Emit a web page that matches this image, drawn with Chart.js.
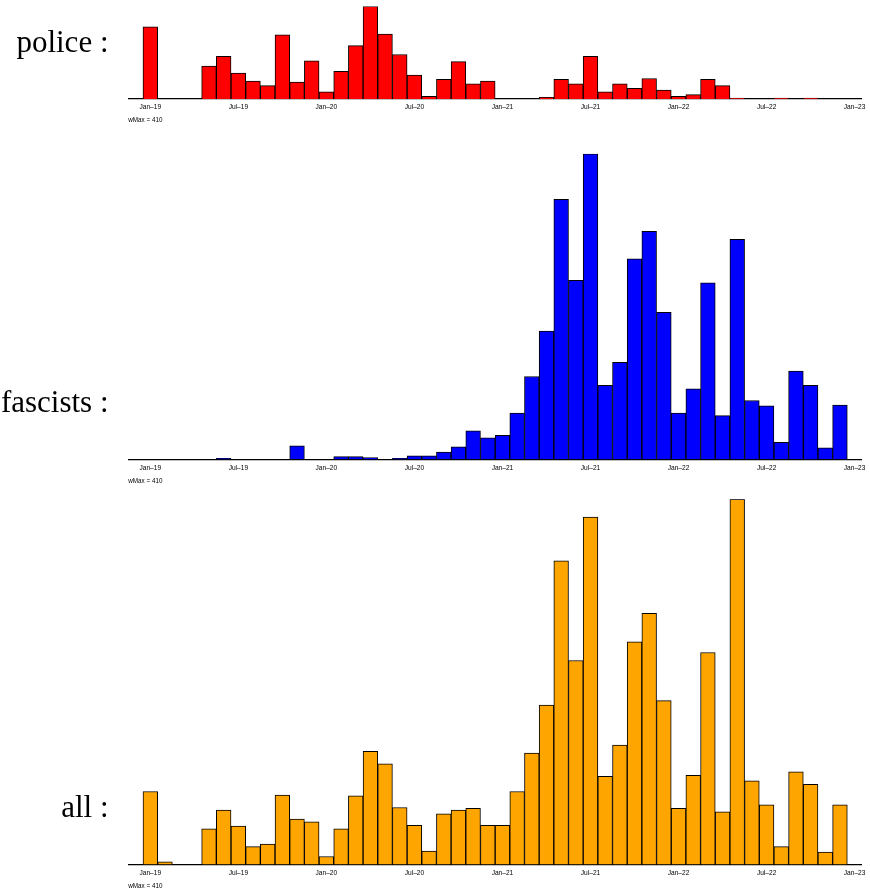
<!DOCTYPE html>
<html>
<head>
<meta charset="utf-8">
<script src="https://cdn.jsdelivr.net/npm/chart.js@4.4.1/dist/chart.umd.min.js"></script>
<style>
  html, body { margin: 0; padding: 0; background: #fff; overflow: hidden; }
  #page { position: relative; width: 870px; height: 890px; }
  canvas { position: absolute; left: 0; }
  .panel-label {
    position: absolute;
    right: 761.5px;
    font-family: 'Liberation Serif', 'Times New Roman', serif;
    font-size: 31px;
    line-height: 31px;
    color: #000;
    white-space: nowrap;
  }
</style>
</head>
<body>
<div id="page">
  <canvas id="policeChart" width="870" height="130" style="top:0px"></canvas>
  <canvas id="fascistsChart" width="870" height="360" style="top:130px"></canvas>
  <canvas id="allChart" width="870" height="400" style="top:490px"></canvas>
  <div class="panel-label" style="top:26px">police :</div>
  <div class="panel-label" style="top:386px">fascists :</div>
  <div class="panel-label" style="top:791px">all :</div>
</div>
<script>
// Monthly categories, Dec-18 .. Jan-23
const months = [
    'Dec–18',
    'Jan–19', 'Feb–19', 'Mar–19', 'Apr–19', 'May–19', 'Jun–19', 'Jul–19', 'Aug–19', 'Sep–19', 'Oct–19', 'Nov–19', 'Dec–19',
    'Jan–20', 'Feb–20', 'Mar–20', 'Apr–20', 'May–20', 'Jun–20', 'Jul–20', 'Aug–20', 'Sep–20', 'Oct–20', 'Nov–20', 'Dec–20',
    'Jan–21', 'Feb–21', 'Mar–21', 'Apr–21', 'May–21', 'Jun–21', 'Jul–21', 'Aug–21', 'Sep–21', 'Oct–21', 'Nov–21', 'Dec–21',
    'Jan–22', 'Feb–22', 'Mar–22', 'Apr–22', 'May–22', 'Jun–22', 'Jul–22', 'Aug–22', 'Sep–22', 'Oct–22', 'Nov–22', 'Dec–22',
    'Jan–23'
];

// Only these months get a label on the axis
const tickLabels = ['Jan–19', 'Jul–19', 'Jan–20', 'Jul–20', 'Jan–21', 'Jul–21', 'Jan–22', 'Jul–22', 'Jan–23'];

const police = [0,
    81, 0, 0, 0, 37, 48, 29, 20, 15, 72, 19, 43,
    8, 31, 60, 104, 73, 50, 27, 3, 22, 42, 17, 20,
    0, 0, 0, 2, 22, 17, 48, 8, 17, 12, 23, 10,
    3, 5, 22, 15, 1, 0, 0, 1, 0, 1, 0, 0,
    0];

const fascists = [0,
    0, 0, 0, 0, 0, 1, 0, 0, 0, 0, 15, 0,
    0, 3, 3, 2, 0, 1, 4, 4, 8, 14, 32, 24,
    27, 52, 93, 144, 292, 201, 343, 83, 109, 225, 256, 165,
    52, 79, 198, 49, 247, 66, 60, 19, 99, 83, 13, 61,
    0];

const all = [0,
    82, 3, 0, 0, 40, 61, 43, 20, 23, 78, 51, 48,
    9, 40, 77, 127, 113, 64, 44, 15, 57, 61, 63, 44,
    44, 82, 125, 179, 341, 229, 390, 99, 134, 250, 282, 184,
    63, 100, 238, 59, 410, 94, 67, 20, 104, 90, 14, 67,
    0];

const wMax = 410;

const makePanel = (id, values, color, padTop, padBottom) => {
    new Chart(document.getElementById(id), {
        type: 'bar',
        data: {
            labels: months,
            datasets: [{
                data: values,
                backgroundColor: color,
                borderColor: '#000',
                borderWidth: 1,
                barPercentage: 1,
                categoryPercentage: 1
            }]
        },
        options: {
            responsive: false,
            animation: false,
            layout: {
                padding: { left: 128.3, right: 5.2, top: padTop, bottom: padBottom }
            },
            plugins: {
                legend: { display: false },
                tooltip: { enabled: false }
            },
            scales: {
                x: {
                    grid: { display: false, drawTicks: false },
                    border: { display: true, color: '#000', width: 1.2 },
                    ticks: {
                        autoSkip: false,
                        maxRotation: 0,
                        padding: 4.5,
                        color: '#000',
                        font: { family: 'Liberation Sans', size: 6.6 },
                        callback: function (v) {
                            const l = this.getLabelForValue(v);
                            return tickLabels.includes(l) ? l : '';
                        }
                    },
                    title: {
                        display: true,
                        text: 'wMax = ' + wMax,
                        align: 'start',
                        color: '#000',
                        font: { family: 'Liberation Sans', size: 6.3 },
                        padding: { top: 1.7, bottom: 0 }
                    },
                    afterFit: (scale) => { scale.height = 25.5; }
                },
                y: {
                    display: false,
                    min: 0,
                    max: Math.max(...values)
                }
            }
        }
    });
};

makePanel('policeChart', police, '#FF0000', 6.4, 5.5);
makePanel('fascistsChart', fascists, '#0000FF', 23.8, 5.2);
makePanel('allChart', all, '#FFA500', 9.3, 0);
</script>
</body>
</html>
